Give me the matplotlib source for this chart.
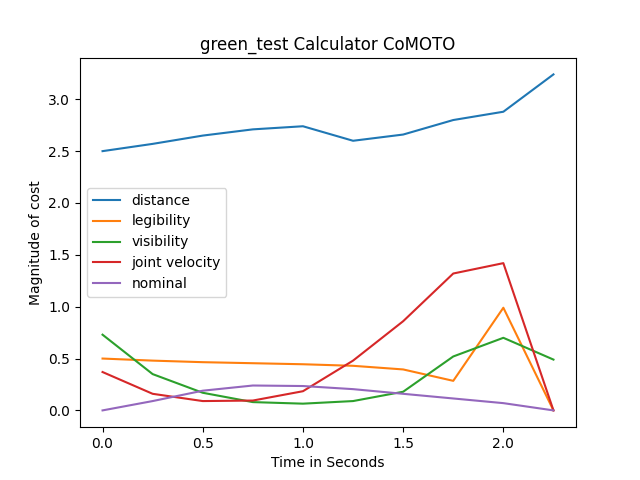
import numpy as np
import matplotlib
matplotlib.use('Agg')
import matplotlib.pyplot as plt

times = [0.0, 0.25, 0.5, 0.75, 1.0, 1.25, 1.5, 1.75, 2.0, 2.25]
distance = [2.50, 2.57, 2.65, 2.71, 2.74, 2.60, 2.66, 2.80, 2.88, 3.24]
legibility = [0.50, 0.48, 0.465, 0.455, 0.445, 0.43, 0.395, 0.285, 0.99, 0.0]
visibility = [0.73, 0.35, 0.17, 0.08, 0.065, 0.09, 0.18, 0.52, 0.70, 0.49]
joint_velocity = [0.37, 0.16, 0.09, 0.095, 0.185, 0.48, 0.86, 1.32, 1.42, 0.0]
nominal = [0.0, 0.09, 0.19, 0.24, 0.235, 0.205, 0.16, 0.115, 0.07, 0.0]

fig, ax = plt.subplots(figsize=(6.4, 4.8), dpi=100)
ax.plot(times, distance, label='distance')
ax.plot(times, legibility, label='legibility')
ax.plot(times, visibility, label='visibility')
ax.plot(times, joint_velocity, label='joint velocity')
ax.plot(times, nominal, label='nominal')
ax.set_title('green_test Calculator CoMOTO')
ax.set_xlabel('Time in Seconds')
ax.set_ylabel('Magnitude of cost')
ax.legend(loc='center left')
fig.savefig('out.png')
